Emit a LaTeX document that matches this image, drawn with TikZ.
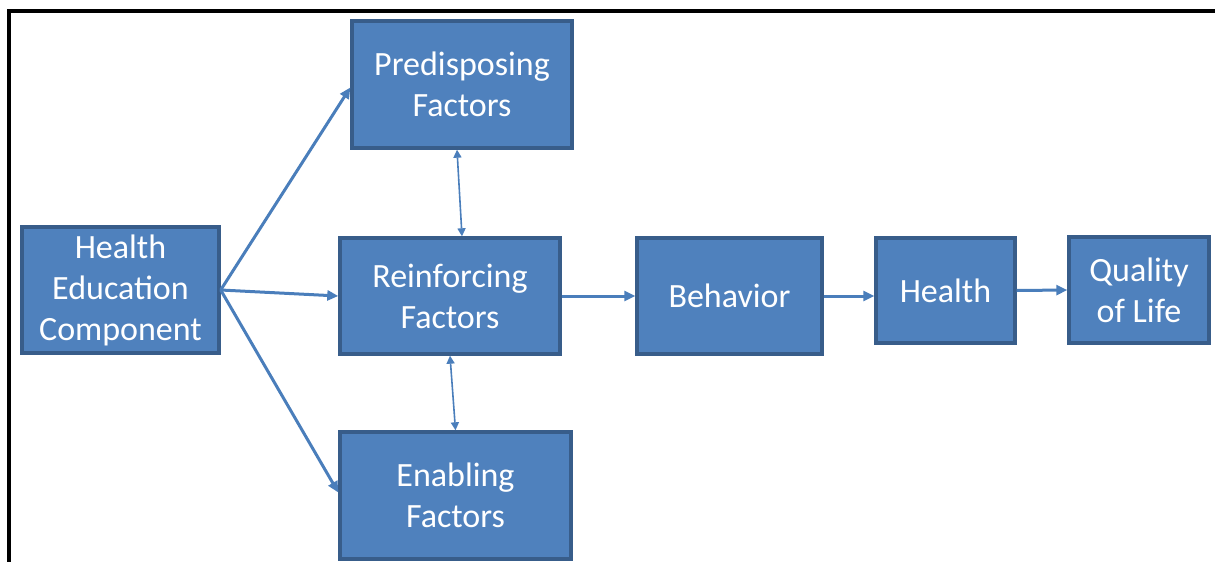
\documentclass[tikz,border=0pt]{standalone}
\usepackage{fontspec}
\setmainfont{Carlito}
\usetikzlibrary{arrows.meta}
\definecolor{boxfill}{HTML}{4F81BD}
\definecolor{boxline}{HTML}{385D8A}
\definecolor{arrowc}{HTML}{4A7EBB}
\tikzset{
  box/.style={draw=boxline, fill=boxfill, line width=3.4pt, text=white, align=center,
    inner sep=0pt, font=\fontsize{34}{41}\selectfont},
  arr/.style={draw=arrowc, line width=3pt, -{Triangle[length=11pt,width=10pt]}},
  biarr/.style={draw=arrowc, line width=1.6pt, {Triangle[length=8pt,width=8pt]}-{Triangle[length=8pt,width=8pt]}},
}
\begin{document}
\begin{tikzpicture}[x=1pt,y=-1pt]
\useasboundingbox (0,0) rectangle (1215,562);
\draw[line width=3.4pt] (1215,11) -- (9,11) -- (9,562);
\node[box, minimum width=197pt, minimum height=126pt] (hec) at (120.5,290) {Health\\Education\\Component};
\node[box, minimum width=220pt, minimum height=127pt] (pred) at (462,84.5) {Predisposing\\Factors};
\node[box, minimum width=220pt, minimum height=116pt] (reinf) at (450,296) {Reinforcing\\Factors};
\node[box, minimum width=231pt, minimum height=127pt] (enab) at (455.5,495.5) {Enabling\\Factors};
\node[box, minimum width=185pt, minimum height=116pt] (beh) at (729.5,296) {Behavior};
\node[box, minimum width=139pt, minimum height=105pt] (health) at (945.5,290.5) {Health};
\node[box, minimum width=140pt, minimum height=106pt] (qual) at (1139,290) {Quality\\of Life};
\draw[arr] (hec.east) -- ([yshift=-3pt]pred.west);
\draw[arr] (hec.east) -- (reinf.west);
\draw[arr] (hec.east) -- ([yshift=3pt]enab.west);
\draw[biarr] ([xshift=-5pt]pred.south) -- ([xshift=12pt]reinf.north);
\draw[biarr] (reinf.south) -- (enab.north);
\draw[arr] (reinf.east) -- (beh.west);
\draw[arr] (beh.east) -- (beh.east -| health.west);
\draw[arr] (health.east) -- (qual.west);
\end{tikzpicture}
\end{document}
